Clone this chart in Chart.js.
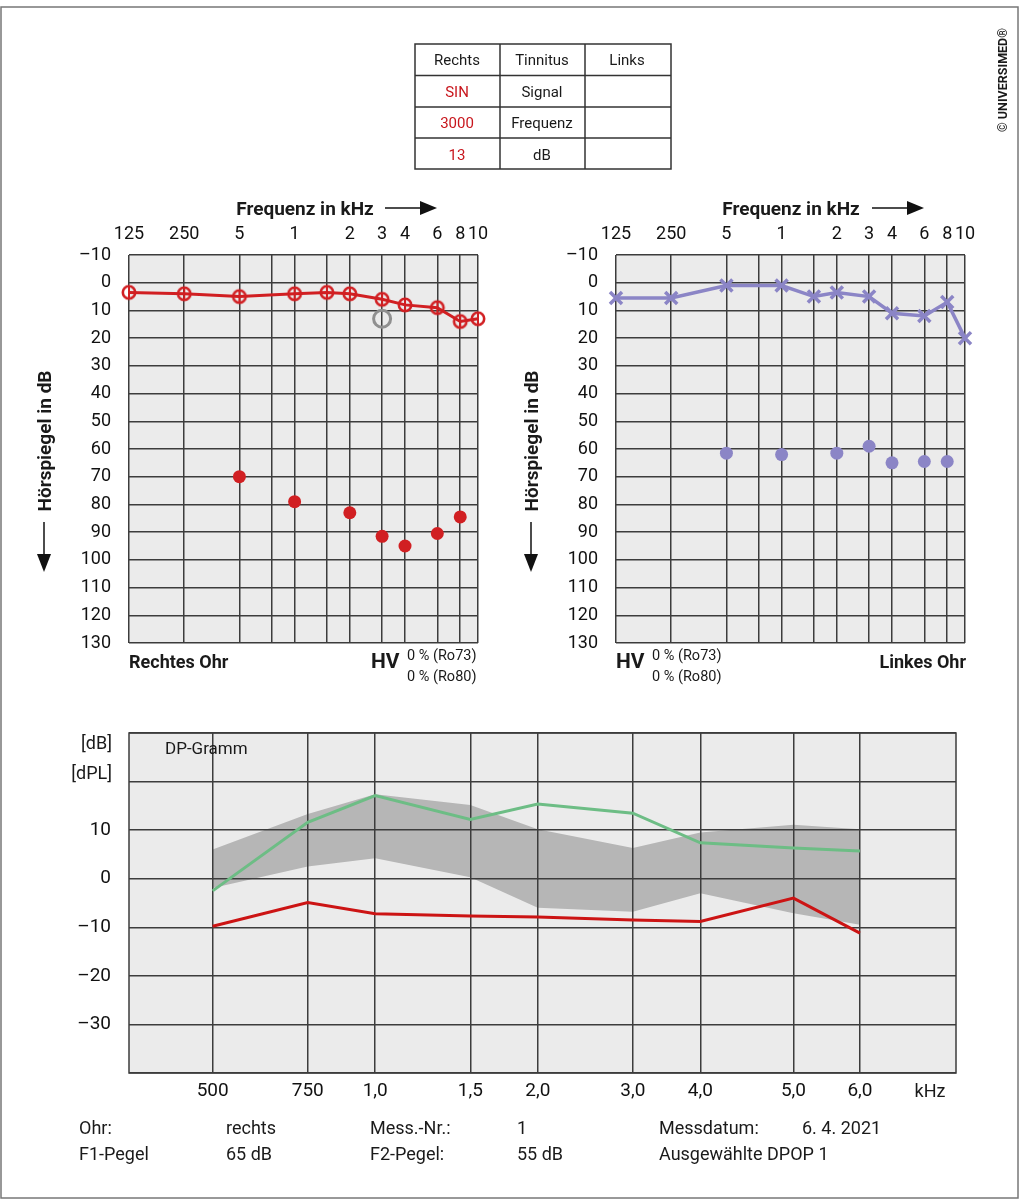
<!DOCTYPE html>
<html><head><meta charset="utf-8">
<script src="https://cdn.jsdelivr.net/npm/chart.js@4.4.1/dist/chart.umd.min.js"></script>
<style>
html,body{margin:0;padding:0;background:#fff;}
#root{position:relative;width:1024px;height:1202px;overflow:hidden;font-family:Roboto,sans-serif;background:#fff;}
canvas{position:absolute;}
#ov{position:absolute;left:0;top:0;}
#ov text{font-family:Roboto,sans-serif;fill:#1a1a1a;}
</style></head><body>
<div id="root">
<canvas id="cR" width="448" height="468" style="left:60px;top:215px;width:448px;height:468px"></canvas>
<canvas id="cL" width="448" height="468" style="left:547px;top:215px;width:448px;height:468px"></canvas>
<canvas id="cDP" width="920" height="412" style="left:60px;top:693px;width:920px;height:412px"></canvas>
<svg id="ov" width="1024" height="1202" viewBox="0 0 1024 1202">
  <rect x="1" y="7" width="1017" height="1191" fill="none" stroke="#777" stroke-width="1.5"/>
  <!-- Tinnitus table -->
  <g stroke="#333" stroke-width="1.5" fill="none">
    <rect x="415" y="44" width="256" height="125"/>
    <line x1="500" y1="44" x2="500" y2="169"/><line x1="585" y1="44" x2="585" y2="169"/>
    <line x1="415" y1="75.5" x2="671" y2="75.5"/><line x1="415" y1="107" x2="671" y2="107"/><line x1="415" y1="138" x2="671" y2="138"/>
  </g>
  <g font-size="15" text-anchor="middle" dominant-baseline="central">
    <text x="457" y="60">Rechts</text><text x="542" y="60">Tinnitus</text><text x="627" y="60">Links</text>
    <text x="457" y="92" style="fill:#c8161d">SIN</text><text x="542" y="92">Signal</text>
    <text x="457" y="123" style="fill:#c8161d">3000</text><text x="542" y="123">Frequenz</text>
    <text x="457" y="155" style="fill:#c8161d">13</text><text x="542" y="155">dB</text>
  </g>
  <text transform="translate(1002,80) rotate(-90)" font-size="12.5" font-weight="bold" text-anchor="middle" dominant-baseline="central">© UNIVERSIMED®</text>
  <!-- axis titles -->
  <g font-size="19" font-weight="bold" text-anchor="middle" dominant-baseline="central">
    <text x="305" y="208">Frequenz in kHz</text>
    <text x="791" y="208">Frequenz in kHz</text>
    <text transform="translate(44,441) rotate(-90)">Hörspiegel in dB</text>
    <text transform="translate(531,441) rotate(-90)">Hörspiegel in dB</text>
  </g>
  <g stroke="#111" stroke-width="1.5">
    <line x1="385" y1="208" x2="422" y2="208"/><line x1="872" y1="208" x2="909" y2="208"/>
    <line x1="44" y1="522" x2="44" y2="556"/><line x1="531" y1="522" x2="531" y2="556"/>
  </g>
  <g fill="#111">
    <polygon points="420,201 437,208 420,215"/><polygon points="907,201 924,208 907,215"/>
    <polygon points="37,554 51,554 44,572"/><polygon points="524,554 538,554 531,572"/>
  </g>
  <!-- audiogram bottom labels -->
  <g dominant-baseline="central">
    <text x="129" y="661" font-size="18" font-weight="bold">Rechtes Ohr</text>
    <text x="371" y="661" font-size="21" font-weight="bold">HV</text>
    <text x="407" y="655" font-size="14.5">0 % (Ro73)</text>
    <text x="407" y="676" font-size="14.5">0 % (Ro80)</text>
    <text x="616" y="661" font-size="21" font-weight="bold">HV</text>
    <text x="652" y="655" font-size="14.5">0 % (Ro73)</text>
    <text x="652" y="676" font-size="14.5">0 % (Ro80)</text>
    <text x="966" y="661" font-size="18" font-weight="bold" text-anchor="end">Linkes Ohr</text>
  </g>
  <!-- DP labels -->
  <g dominant-baseline="central" font-size="18">
    <text x="112" y="742" text-anchor="end">[dB]</text>
    <text x="112" y="772" text-anchor="end">[dPL]</text>
    <text x="165" y="748" font-size="17">DP-Gramm</text>
    <text x="930" y="1090" text-anchor="middle">kHz</text>
  </g>
  <g dominant-baseline="central" font-size="18">
    <text x="79" y="1127">Ohr:</text><text x="226" y="1127">rechts</text>
    <text x="370" y="1127">Mess.-Nr.:</text><text x="517" y="1127">1</text>
    <text x="659" y="1127">Messdatum:</text><text x="802" y="1127">6. 4. 2021</text>
    <text x="79" y="1153">F1-Pegel</text><text x="226" y="1153">65 dB</text>
    <text x="370" y="1153">F2-Pegel:</text><text x="517" y="1153">55 dB</text>
    <text x="659" y="1153">Ausgewählte DPOP 1</text>
  </g>
</svg>
</div>
<script>
// ---------- data ----------
const audioGridFreqs = [125,250,500,750,1000,1500,2000,3000,4000,6000,8000,10000];
const audioGridLabels = ['125','250','5','','1','','2','3','4','6','8','10'];
const audioDbTicks = [-10,0,10,20,30,40,50,60,70,80,90,100,110,120,130];

const airFreqs = [125,250,500,1000,1500,2000,3000,4000,6000,8000,10000];
const rightAir = [3.5,4,5,4,3.5,4,6,8,9,14,13];
const leftAir  = [5.5,5.5,1,1,5,3.5,5,11,12,7,20];

const dotFreqs = [500,1000,2000,3000,4000,6000,8000];
const rightDots = [70,79,83,91.5,95,90.5,84.5];
const leftDots  = [61.5,62,61.5,59,65,64.5,64.5];

const tinnitusFreq = 3000;
const tinnitusDb = 13;

// DP-Gramm: positions on the log frequency axis (Hz) and printed labels
const dpAxisPos = [500,750,1000,1500,2000,3000,4000,5950,7900];
const dpLabels  = ['500','750','1,0','1,5','2,0','3,0','4,0','5,0','6,0'];
const dpYTicks  = [-40,-30,-20,-10,0,10,20,30];
const dpGreen = [-2.5,11.6,17.1,12.2,15.4,13.5,7.4,6.3,5.7];
const dpRed   = [-9.8,-4.9,-7.2,-7.7,-7.9,-8.5,-8.8,-4.0,-11.2];
const dpBandUpper = [6.0,13.3,17.4,15.2,10.2,6.3,9.5,11.1,10.2];
const dpBandLower = [-1.9,2.5,4.2,0.3,-6.0,-6.8,-3.0,-7.1,-9.5];

// ---------- styles ----------
const GRID = '#3c3c3c';
const RED = '#d11f22';
const PURPLE = '#8b85c6';
const GREEN = '#6dbd85';
const BG = '#ebebeb';

Chart.defaults.font.family = 'Roboto, sans-serif';
Chart.defaults.color = '#111';

const plotBg = {
  id: 'plotBg',
  beforeDraw(chart, args, opts) {
    const a = chart.chartArea; if (!a) return;
    const c = chart.ctx; c.save(); c.fillStyle = opts.color || BG;
    c.fillRect(a.left, a.top, a.right - a.left, a.bottom - a.top); c.restore();
  }
};
const plotBorder = {
  id: 'plotBorder',
  beforeDatasetsDraw(chart, args, opts) {
    if (!opts.enabled) return;
    const a = chart.chartArea; const c = chart.ctx; c.save();
    c.strokeStyle = GRID; c.lineWidth = 1.5;
    c.strokeRect(a.left, a.top, a.right - a.left, a.bottom - a.top); c.restore();
  }
};
try {
  const filler = Chart.registry.getPlugin('filler');
  Chart.unregister(filler);
  Chart.register(plotBg, plotBorder);
  Chart.register(filler);
} catch (e) {
  Chart.register(plotBg, plotBorder);
}

function fmtDb(v){ return v < 0 ? '\u2013' + Math.abs(v) : String(v); }

function circleCross(color){
  const c = document.createElement('canvas'); c.width = 18; c.height = 18;
  const g = c.getContext('2d'); g.strokeStyle = color; g.lineWidth = 2.6;
  g.beginPath(); g.arc(9, 9, 6.2, 0, Math.PI*2); g.stroke();
  g.lineWidth = 2; g.beginPath(); g.moveTo(9, 3.5); g.lineTo(9, 14.5); g.stroke();
  return c;
}

function audioOptions(){
  return {
    responsive:false, animation:false, events:[],
    layout:{padding:{left:0,top:0,right:30,bottom:40}},
    plugins:{legend:{display:false}, tooltip:{enabled:false}, plotBg:{color:BG}, plotBorder:{enabled:false}},
    scales:{
      x:{type:'logarithmic', position:'top', min:125, max:10000,
        afterBuildTicks:s=>{ s.ticks = audioGridFreqs.map(v=>({value:v})); },
        afterFit:s=>{ s.height = 40; },
        grid:{color:GRID, lineWidth:1.5, drawTicks:false},
        border:{display:false},
        ticks:{autoSkip:false, maxRotation:0, minRotation:0, padding:10, color:'#111', font:{size:18},
          callback:(v,i)=>audioGridLabels[i]}},
      y:{type:'linear', reverse:true, min:-10, max:130,
        afterBuildTicks:s=>{ s.ticks = audioDbTicks.map(v=>({value:v})); },
        afterFit:s=>{ s.width = 69; },
        grid:{color:GRID, lineWidth:1.5, drawTicks:false},
        border:{display:false},
        ticks:{padding:18, color:'#111', font:{size:18}, callback:v=>fmtDb(v)}}
    }
  };
}

const pts = (xs, ys) => xs.map((x,i)=>({x:x, y:ys[i]}));

new Chart(document.getElementById('cR'), {
  type:'line',
  data:{datasets:[
    {data:pts(airFreqs,rightAir), borderColor:RED, borderWidth:3, pointStyle:circleCross(RED), pointRadius:7, clip:false, tension:0},
    {data:[{x:tinnitusFreq,y:tinnitusDb}], showLine:false, pointStyle:'circle', pointRadius:8.5, pointBorderWidth:3,
      pointBorderColor:'#8f8f8f', pointBackgroundColor:'rgba(0,0,0,0)', clip:false},
    {data:pts(dotFreqs,rightDots), showLine:false, pointStyle:'circle', pointRadius:6.5, pointBorderWidth:0,
      pointBackgroundColor:RED, pointBorderColor:RED, clip:false}
  ]},
  options:audioOptions()
});

new Chart(document.getElementById('cL'), {
  type:'line',
  data:{datasets:[
    {data:pts(airFreqs,leftAir), borderColor:PURPLE, borderWidth:3.5, pointStyle:'crossRot', pointRadius:8.5,
      pointBorderWidth:3.5, pointBorderColor:PURPLE, clip:false, tension:0},
    {data:pts(dotFreqs,leftDots), showLine:false, pointStyle:'circle', pointRadius:6.5, pointBorderWidth:0,
      pointBackgroundColor:PURPLE, pointBorderColor:PURPLE, clip:false}
  ]},
  options:audioOptions()
});

new Chart(document.getElementById('cDP'), {
  type:'line',
  data:{datasets:[
    {data:pts(dpAxisPos,dpBandUpper), borderWidth:0, pointRadius:0, fill:'+1', backgroundColor:'#b6b6b6', borderColor:'rgba(0,0,0,0)'},
    {data:pts(dpAxisPos,dpBandLower), borderWidth:0, pointRadius:0, fill:false, borderColor:'rgba(0,0,0,0)'},
    {data:pts(dpAxisPos,dpGreen), borderColor:GREEN, borderWidth:3, pointRadius:0, fill:false},
    {data:pts(dpAxisPos,dpRed), borderColor:'#cc1414', borderWidth:3, pointRadius:0, fill:false}
  ]},
  options:{
    responsive:false, animation:false, events:[],
    layout:{padding:{left:0,top:40,right:24,bottom:0}},
    plugins:{legend:{display:false}, tooltip:{enabled:false}, plotBg:{color:BG}, plotBorder:{enabled:true},
      filler:{drawTime:'beforeDraw', propagate:false}},
    scales:{
      x:{type:'logarithmic', position:'bottom', min:350, max:11900,
        afterBuildTicks:s=>{ s.ticks = dpAxisPos.map(v=>({value:v})); },
        afterFit:s=>{ s.height = 32; },
        grid:{color:GRID, lineWidth:1.5, drawTicks:false},
        border:{display:false},
        ticks:{autoSkip:false, maxRotation:0, minRotation:0, padding:7, color:'#111', font:{size:19},
          callback:(v,i)=>dpLabels[i]}},
      y:{type:'linear', min:-40, max:30,
        afterBuildTicks:s=>{ s.ticks = dpYTicks.map(v=>({value:v})); },
        afterFit:s=>{ s.width = 69; },
        grid:{color:GRID, lineWidth:1.5, drawTicks:false},
        border:{display:false},
        ticks:{padding:18, color:'#111', font:{size:19}, callback:v=>(v>=-30 && v<=10) ? fmtDb(v) : ''}}
    }
  }
});
</script>
</body></html>
